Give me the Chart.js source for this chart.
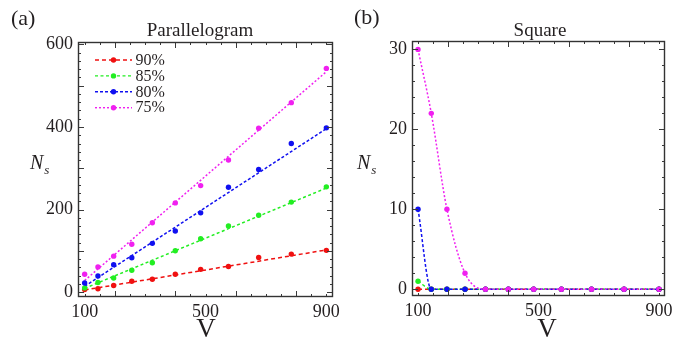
<!DOCTYPE html>
<html><head><meta charset="utf-8">
<script src="https://cdn.jsdelivr.net/npm/chart.js@4.4.1/dist/chart.umd.min.js"></script>
<style>
html,body{margin:0;padding:0;background:#fff;}
body{width:697px;height:343px;overflow:hidden;position:relative;font-family:"Liberation Serif","Times New Roman",serif;color:#231f20;}
.panel{position:absolute;top:0;height:343px;}
#pa{left:0;width:348px;}
#pb{left:348px;width:349px;}
.lbl{position:absolute;white-space:nowrap;line-height:1;}
.ctr{text-align:center;}
</style></head>
<body>
<div class="panel" id="pa"><canvas id="ca"></canvas></div>
<div class="panel" id="pb"><canvas id="cb"></canvas></div>
<div class="lbl" style="left:11px;top:7px;font-size:22px;">(a)</div>
<div class="lbl" style="left:354px;top:6px;font-size:22px;">(b)</div>
<div class="lbl ctr" style="left:100px;width:200px;top:20px;font-size:19px;">Parallelogram</div>
<div class="lbl ctr" style="left:440px;width:200px;top:20px;font-size:19px;">Square</div>
<div class="lbl" style="left:30px;top:152px;font-size:20px;"><i>N</i><span style="font-size:13px;position:relative;top:5px;left:1px;"><i>s</i></span></div>
<div class="lbl" style="left:357px;top:152px;font-size:20px;"><i>N</i><span style="font-size:13px;position:relative;top:5px;left:1px;"><i>s</i></span></div>
<div class="lbl ctr" style="left:156px;width:100px;top:315px;font-size:27px;">V</div>
<div class="lbl ctr" style="left:497px;width:100px;top:315px;font-size:27px;">V</div>
<script>
// ---- data ----
const V = [100, 144, 196, 256, 324, 400, 484, 576, 676, 784, 900];
const seriesLabels = ['90%', '85%', '80%', '75%'];
const seriesColors = ['#f01010', '#22ee22', '#1010f0', '#f020f0'];
const seriesDash = [[4, 3], [3, 2.5], [3, 2], [2, 2]];

// Parallelogram (a)
const parRed     = [6, 8, 16, 26, 31, 43, 55, 62, 84, 92, 101];
const parGreen   = [10, 23, 34, 53, 71, 100, 129, 160, 186, 218, 255];
const parBlue    = [22, 39, 66, 83, 118, 148, 192, 254, 297, 360, 398];
const parMagenta = [43, 61, 87, 116, 168, 216, 258, 320, 397, 459, 542];
// fitted lines (values at V = 100 and V = 900)
const fitV = [100, 900];
const fitRed     = [5, 102];
const fitGreen   = [9, 252];
const fitBlue    = [14, 396];
const fitMagenta = [28, 534];

// Square (b)
const sqRed     = [0, 0, 0, 0, 0, 0, 0, 0, 0, 0, 0];
const sqGreen   = [1, 0, 0, 0, 0, 0, 0, 0, 0, 0, 0];
const sqBlue    = [10, 0, 0, 0, 0, 0, 0, 0, 0, 0, 0];
const sqMagenta = [30, 22, 10, 2, 0, 0, 0, 0, 0, 0, 0];

// tick labels
const xTickLabels = [100, 500, 900];
const yTickLabelsA = [0, 200, 400, 600];
const yTickLabelsB = [0, 10, 20, 30];

// ---- helpers ----
const FONT = '"Liberation Serif", "Times New Roman", serif';
const pts = (xs, ys) => xs.map((x, i) => ({x: x, y: ys[i]}));

const inwardTicks = {
  id: 'inwardTicks',
  afterDraw(chart, args, o) {
    const {ctx, chartArea: a, scales: {x, y}} = chart;
    ctx.save();
    ctx.strokeStyle = '#3a3a3a';
    ctx.lineWidth = 1;
    ctx.beginPath();
    const eps = 1e-6;
    for (let v = Math.ceil(x.min / o.xMinor) * o.xMinor; v <= x.max + eps; v += o.xMinor) {
      const px = Math.round(x.getPixelForValue(v)) + 0.5;
      const len = Math.abs(v / o.xMajor - Math.round(v / o.xMajor)) < eps ? 6 : 3;
      ctx.moveTo(px, a.bottom); ctx.lineTo(px, a.bottom - len);
      ctx.moveTo(px, a.top); ctx.lineTo(px, a.top + len);
    }
    for (let v = Math.ceil(y.min / o.yMinor) * o.yMinor; v <= y.max + eps; v += o.yMinor) {
      const py = Math.round(y.getPixelForValue(v)) + 0.5;
      const len = Math.abs(v / o.yMajor - Math.round(v / o.yMajor)) < eps ? 6 : 3;
      ctx.moveTo(a.left, py); ctx.lineTo(a.left + len, py);
      ctx.moveTo(a.right, py); ctx.lineTo(a.right - len, py);
    }
    ctx.stroke();
    ctx.lineWidth = 1.4;
    ctx.strokeStyle = '#333';
    ctx.strokeRect(a.left + 0.5, a.top + 0.5, a.right - a.left - 1, a.bottom - a.top - 1);
    ctx.restore();
  }
};

const insideLegend = {
  id: 'insideLegend',
  afterDraw(chart, args, o) {
    if (!o.show) return;
    const {ctx, chartArea: a} = chart;
    ctx.save();
    ctx.font = '16px ' + FONT;
    ctx.textBaseline = 'middle';
    seriesLabels.forEach((lab, i) => {
      const y = a.top + 18 + i * 15.9;
      const x0 = a.left + 17, x1 = a.left + 54, xm = (x0 + x1) / 2;
      ctx.strokeStyle = seriesColors[i];
      ctx.lineWidth = 1.4;
      ctx.setLineDash(seriesDash[i]);
      ctx.beginPath(); ctx.moveTo(x0, y); ctx.lineTo(x1, y); ctx.stroke();
      ctx.setLineDash([]);
      ctx.fillStyle = seriesColors[i];
      ctx.beginPath(); ctx.arc(xm, y, 2.7, 0, Math.PI * 2); ctx.fill();
      ctx.fillStyle = '#231f20';
      ctx.fillText(lab, a.left + 57.5, y + 0.5);
    });
    ctx.restore();
  }
};

function scatterSet(label, ys, i, order) {
  return {type: 'scatter', label, data: pts(V, ys), showLine: false,
    pointRadius: 2.7, pointHoverRadius: 2.7, pointBorderWidth: 0,
    pointBackgroundColor: seriesColors[i], backgroundColor: seriesColors[i], order};
}
function fitSet(label, ys, i, order) {
  return {type: 'line', label, data: pts(fitV, ys), pointRadius: 0, borderWidth: 1.5,
    borderColor: seriesColors[i], borderDash: seriesDash[i], fill: false, order};
}
function curveSet(label, ys, i, order) {
  return {type: 'line', label, data: pts(V, ys), borderWidth: 1.5, borderColor: seriesColors[i],
    borderDash: seriesDash[i], cubicInterpolationMode: 'monotone', fill: false,
    pointRadius: 2.7, pointBorderWidth: 0, pointBackgroundColor: seriesColors[i], order};
}

function axes(xmin, xmax, ymin, ymax, yLabels, yWidth, xHeight) {
  const tickFont = {family: FONT, size: 18};
  return {
    x: {type: 'linear', min: xmin, max: xmax,
      grid: {display: false, drawTicks: false}, border: {display: false},
      ticks: {font: tickFont, color: '#231f20', padding: 4, maxRotation: 0},
      afterBuildTicks: s => { s.ticks = xTickLabels.map(v => ({value: v})); },
      afterFit: s => { s.height = xHeight; }},
    y: {type: 'linear', min: ymin, max: ymax,
      grid: {display: false, drawTicks: false}, border: {display: false},
      ticks: {font: tickFont, color: '#231f20', padding: 5},
      afterBuildTicks: s => { s.ticks = yLabels.map(v => ({value: v})); },
      afterFit: s => { s.width = yWidth; }}
  };
}

Chart.defaults.animation = false;

new Chart(document.getElementById('ca'), {
  data: {datasets: [
    scatterSet('90%', parRed, 0, 3),
    scatterSet('85%', parGreen, 1, 2),
    scatterSet('80%', parBlue, 2, 1),
    scatterSet('75%', parMagenta, 3, 0),
    fitSet('90% fit', fitRed, 0, 13),
    fitSet('85% fit', fitGreen, 1, 12),
    fitSet('80% fit', fitBlue, 2, 11),
    fitSet('75% fit', fitMagenta, 3, 10)
  ]},
  options: {
    responsive: true, maintainAspectRatio: false, devicePixelRatio: 1,
    layout: {padding: {top: 42, right: 15, left: 0, bottom: 0}},
    scales: axes(78, 922, -12, 606, yTickLabelsA, 78, 46),
    plugins: {legend: {display: false}, tooltip: {enabled: false},
      inwardTicks: {xMinor: 50, xMajor: 200, yMinor: 20, yMajor: 100},
      insideLegend: {show: true}}
  },
  plugins: [inwardTicks, insideLegend]
});

new Chart(document.getElementById('cb'), {
  data: {datasets: [
    curveSet('90%', sqRed, 0, 3),
    curveSet('85%', sqGreen, 1, 2),
    curveSet('80%', sqBlue, 2, 1),
    curveSet('75%', sqMagenta, 3, 0)
  ]},
  options: {
    responsive: true, maintainAspectRatio: false, devicePixelRatio: 1,
    layout: {padding: {top: 41, right: 32, left: 0, bottom: 0}},
    scales: axes(80, 920, -0.85, 31.05, yTickLabelsB, 64, 47),
    plugins: {legend: {display: false}, tooltip: {enabled: false},
      inwardTicks: {xMinor: 50, xMajor: 200, yMinor: 2, yMajor: 10},
      insideLegend: {show: false}}
  },
  plugins: [inwardTicks, insideLegend]
});
</script>
</body></html>
